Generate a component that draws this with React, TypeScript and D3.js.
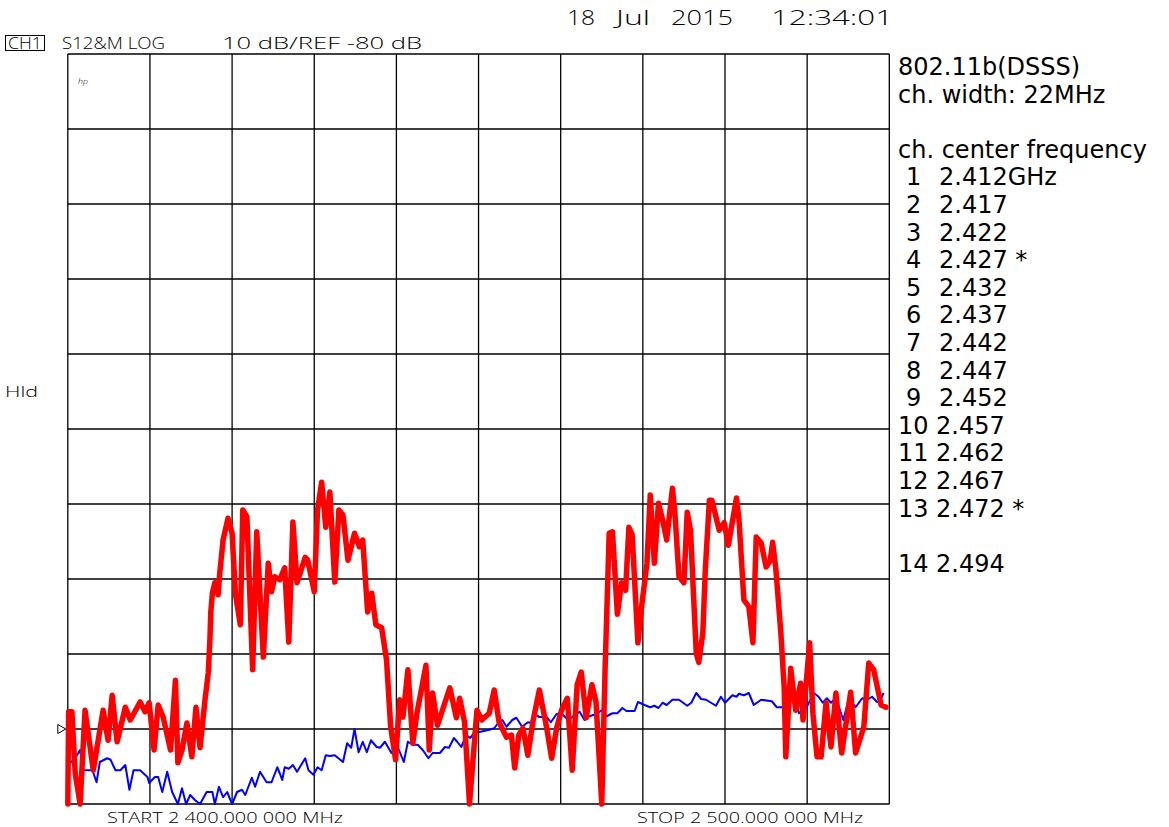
import React from "react";
import * as d3 from "d3";

// ---- scale settings (network analyzer: 10 dB/div, REF -80 dB) ----
const START_MHZ = 2400;
const STOP_MHZ = 2500;
const REF_DB = -80;
const DB_PER_DIV = 10;
const TOP_DB = 10;
const BOTTOM_DB = -90;
const X_DIVS = 10;

// ---- traces: [frequency MHz, level dB] ----
const redTrace: [number, number][] = [
  [2400.0,-90],[2400.1,-77.7],[2400.5,-77.7],[2400.9,-85.9],[2401.5,-90],[2402.1,-77.5],[2403.1,-85.5],[2404.3,-77.5],[2404.9,-81.5],[2405.4,-75.5],
  [2406.0,-81.7],[2407.0,-77.1],[2407.6,-78.8],[2408.8,-76.4],[2409.4,-77.7],[2409.9,-76.5],[2410.5,-82.8],[2411.0,-76.8],[2411.6,-78.4],[2412.5,-82.8],
  [2413.1,-73.5],[2413.4,-84.5],[2413.9,-82.8],[2414.5,-79.2],[2415.1,-83.7],[2415.6,-77.1],[2416.1,-82.5],[2416.7,-76.1],[2417.1,-72.5],[2417.3,-68.1],
  [2417.4,-64.5],[2417.6,-61.9],[2417.9,-60.5],[2418.3,-62.1],[2418.5,-59.2],[2418.9,-54.8],[2419.5,-51.9],[2420.0,-53.9],[2420.4,-61.9],[2421.0,-66.1],
  [2421.3,-50.8],[2421.8,-51.7],[2422.5,-72.1],[2423.0,-53.7],[2423.8,-70.4],[2424.4,-57.9],[2424.8,-61.7],[2425.2,-59.7],[2425.8,-60.1],[2426.4,-58.5],
  [2426.9,-68.4],[2427.4,-52.4],[2427.9,-60.5],[2428.9,-57.1],[2429.2,-57.5],[2430.0,-61.7],[2430.4,-50.8],[2430.9,-47.1],[2431.4,-53.1],[2431.9,-48.4],
  [2432.5,-60.4],[2433.0,-50.8],[2433.5,-51.5],[2434.1,-57.5],[2434.9,-53.9],[2435.5,-55.7],[2435.9,-54.8],[2436.5,-64.4],[2437.0,-61.9],[2437.5,-66.1],
  [2438.2,-66.5],[2438.8,-70.8],[2439.3,-79.7],[2439.9,-84.1],[2440.4,-76.1],[2440.8,-78.4],[2441.4,-72.1],[2442.0,-81.9],[2442.5,-77.9],[2443.6,-71.5],
  [2444.0,-82.8],[2444.4,-75.2],[2445.0,-79.5],[2446.5,-74.5],[2447.3,-78.5],[2447.7,-75.9],[2448.3,-79.1],[2448.9,-90],[2449.8,-77.5],[2450.4,-78.8],
  [2451.3,-77.9],[2451.9,-74.8],[2452.5,-79.1],[2453.4,-81.1],[2454.0,-80.8],[2454.4,-85.2],[2454.9,-80.8],[2455.4,-79.9],[2456.0,-83.5],[2456.6,-79.1],
  [2457.4,-74.8],[2458.3,-79.9],[2458.9,-83.9],[2459.5,-79.9],[2460.1,-77.5],[2460.8,-75.9],[2461.4,-85.5],[2462.0,-74.1],[2462.5,-72.4],[2463.1,-78.5],
  [2463.8,-74.1],[2464.3,-76.4],[2465.0,-90],[2465.4,-72.1],[2465.9,-53.9],[2466.3,-53.7],[2466.9,-64.7],[2467.4,-60.5],[2467.9,-61.5],[2468.3,-53.1],
  [2468.7,-54.1],[2469.4,-68.5],[2469.9,-63.2],[2470.5,-57.9],[2470.9,-48.8],[2471.4,-57.9],[2471.9,-49.9],[2472.4,-52.1],[2472.9,-54.8],[2473.6,-47.9],
  [2473.9,-51.2],[2474.4,-59.7],[2475.0,-60.5],[2475.4,-51.1],[2475.8,-53.5],[2476.5,-69.9],[2476.8,-71.1],[2477.3,-67.2],[2477.6,-58.8],[2478.1,-49.5],
  [2478.4,-49.5],[2479.3,-53.5],[2479.9,-52.5],[2480.4,-55.5],[2481.4,-49.2],[2481.7,-52.1],[2482.3,-62.8],[2482.9,-63.7],[2483.4,-68.5],[2483.8,-54.4],
  [2484.4,-55.2],[2485.0,-58.4],[2485.5,-57.5],[2485.8,-55.1],[2486.2,-58.8],[2486.8,-67.2],[2487.2,-74.4],[2487.4,-83.7],[2488.0,-71.9],[2488.6,-77.5],
  [2489.2,-73.9],[2489.5,-78.8],[2490.3,-68.5],[2490.7,-77.9],[2491.2,-83.7],[2491.7,-83.7],[2492.3,-76.5],[2492.9,-82.4],[2493.5,-75.2],[2494.2,-83.2],
  [2495.3,-75.1],[2495.9,-83.2],[2496.9,-79.7],[2497.5,-71.2],[2498.1,-72.1],[2499.0,-76.8],[2499.6,-77.1],
];

const blueTrace: [number, number][] = [
  [2400.0,-84.5],[2400.3,-84.5],[2400.9,-83.9],[2401.5,-82.8],[2401.9,-85.5],[2403.0,-85.5],[2403.5,-87.1],[2403.9,-84.4],[2404.8,-83.9],[2405.2,-84.1],
  [2405.8,-85.5],[2406.4,-85.5],[2407.0,-84.8],[2407.5,-88.1],[2408.0,-85.5],[2408.8,-85.5],[2409.7,-86.4],[2409.9,-87.2],[2410.6,-86.4],[2411.0,-86.4],
  [2411.5,-88.4],[2412.1,-85.7],[2412.7,-88.4],[2413.4,-90],[2413.9,-87.9],[2414.4,-90],[2414.9,-88.8],[2415.5,-89.5],[2416.1,-90],[2416.9,-88.4],
  [2417.6,-88.4],[2417.9,-90],[2418.4,-87.7],[2418.9,-89.1],[2419.4,-88.4],[2420.0,-90],[2420.6,-88.4],[2421.2,-88.1],[2421.6,-88.8],[2422.4,-86.5],
  [2422.8,-87.7],[2423.4,-85.7],[2424.2,-87.1],[2424.8,-87.1],[2425.5,-85.1],[2425.8,-85.9],[2426.1,-86.8],[2426.4,-85.1],[2426.9,-85.3],[2427.4,-84.8],
  [2427.9,-85.7],[2428.9,-83.9],[2429.3,-85.5],[2429.9,-86.1],[2430.4,-85.1],[2430.9,-85.5],[2431.4,-83.5],[2431.9,-83.6],[2432.5,-83.5],[2433.5,-84.4],
  [2434.0,-81.9],[2434.5,-82.5],[2434.9,-80.0],[2435.4,-83.1],[2435.9,-81.7],[2436.4,-83.1],[2436.9,-81.5],[2437.6,-82.4],[2438.0,-82.5],[2438.6,-81.7],
  [2439.4,-83.2],[2440.2,-82.5],[2440.9,-84.4],[2441.4,-81.7],[2442.0,-82.1],[2442.6,-82.1],[2443.2,-82.8],[2443.9,-83.9],[2444.4,-83.2],[2445.3,-83.2],
  [2445.9,-82.4],[2446.4,-82.5],[2447.0,-81.2],[2447.4,-81.7],[2447.9,-82.4],[2448.5,-80.8],[2449.0,-81.2],[2449.5,-80.4],[2450.1,-80.4],[2451.3,-80.1],
  [2451.9,-79.9],[2452.4,-79.2],[2452.9,-78.8],[2453.4,-79.7],[2454.1,-78.8],[2454.6,-78.5],[2455.3,-79.7],[2456.0,-79.1],[2456.4,-79.2],[2456.9,-78.1],
  [2457.4,-78.4],[2458.3,-78.4],[2458.8,-79.1],[2459.5,-78.0],[2460.1,-77.9],[2460.9,-78.8],[2461.4,-78.4],[2462.3,-77.7],[2462.9,-78.8],[2463.5,-78.3],
  [2464.3,-78.0],[2465.0,-77.5],[2465.6,-78.3],[2466.3,-77.9],[2466.9,-77.9],[2467.5,-77.2],[2468.0,-77.6],[2469.0,-77.6],[2469.4,-76.4],[2470.2,-76.8],
  [2470.9,-77.1],[2471.4,-76.9],[2471.9,-77.2],[2472.4,-76.5],[2472.9,-76.8],[2473.6,-76.1],[2474.4,-76.1],[2475.4,-76.9],[2475.9,-76.5],[2476.5,-75.2],
  [2477.1,-76.0],[2477.7,-76.1],[2478.9,-76.9],[2479.5,-75.7],[2480.0,-76.5],[2480.9,-75.5],[2481.4,-75.7],[2481.7,-75.3],[2482.3,-75.5],[2482.9,-75.2],
  [2483.5,-76.8],[2484.4,-76.1],[2485.7,-76.3],[2486.3,-77.1],[2486.9,-77.1],[2487.8,-76.4],[2488.4,-75.7],[2489.0,-77.9],[2489.9,-77.2],[2490.8,-75.2],
  [2491.4,-75.7],[2491.9,-76.5],[2492.4,-75.9],[2492.9,-76.5],[2493.5,-75.9],[2494.4,-78.8],[2495.1,-75.9],[2495.9,-77.1],[2496.7,-75.9],[2497.3,-76.1],
  [2497.9,-75.7],[2498.5,-76.4],[2498.8,-76.4],[2499.3,-75.2],
];

// ---- instrument annotation text ----
const dateParts = ["18", "Jul", "2015", "12:34:01"];
const channelTag = "CH1";
const measLabel = "S12&M LOG";
const scaleLabel = "10 dB/REF -80 dB";
const startLabel = "START 2 400.000 000 MHz";
const stopLabel = "STOP 2 500.000 000 MHz";
const holdLabel = "Hld";
const logoLabel = "hp";

// ---- side panel text ----
const infoLines = ["802.11b(DSSS)", "ch. width: 22MHz"];
const freqHeader = "ch. center frequency";
const channelNumbers = [1, 2, 3, 4, 5, 6, 7, 8, 9, 10, 11, 12, 13, 14];
const channelFreqs = ["2.412GHz", "2.417", "2.422", "2.427", "2.432", "2.437", "2.442", "2.447", "2.452", "2.457", "2.462", "2.467", "2.472", "2.494"];
const channelMarks = ["", "", "", "*", "", "", "", "", "", "", "", "", "*", ""];

const PLOT_FONT = "'Open Sans', 'Liberation Sans', Arial, sans-serif";
const SIDE_FONT = "'DejaVu Sans', Verdana, sans-serif";

export default function App() {
  const L = 67.8, R = 889.3, T = 54, B = 804;
  const x = d3.scaleLinear().domain([START_MHZ, STOP_MHZ]).range([L, R]);
  const y = d3.scaleLinear().domain([BOTTOM_DB, TOP_DB]).range([B, T]);
  const line = d3
    .line<[number, number]>()
    .x((d) => x(d[0]))
    .y((d) => y(d[1]));

  const xGrid = d3.range(X_DIVS + 1).map((i) => START_MHZ + (i * (STOP_MHZ - START_MHZ)) / X_DIVS);
  const yGrid = d3.range(BOTTOM_DB, TOP_DB + 0.001, DB_PER_DIV);

  const datePos = [567, 616, 671, 771];
  const dateLen = [28, 34, 62, 122];

  const lineH = 27.6;
  const baseY = 75;
  const rowOfChannel = (i: number) => (i < 13 ? 4 + i : 18);
  const refY = y(REF_DB);

  const plotText = { fontFamily: PLOT_FONT, fontWeight: 300 as const, lengthAdjust: "spacingAndGlyphs" };

  return (
    <svg
      width={1169}
      height={827}
      style={{ position: "fixed", left: 0, top: 0, background: "#fff" }}
    >
      <rect x={0} y={0} width={1169} height={827} fill="#fff" />

      {/* date/time */}
      {dateParts.map((t, i) => (
        <text key={t} x={datePos[i]} y={25} fontSize={20} textLength={dateLen[i]} {...plotText} fill="#000">
          {t}
        </text>
      ))}

      {/* header */}
      <rect x={5.5} y={35.5} width={39} height={15} fill="none" stroke="#000" strokeWidth={1} />
      <text x={8} y={49} fontSize={16} textLength={34} {...plotText}>{channelTag}</text>
      <text x={62} y={49} fontSize={16} textLength={103} {...plotText}>{measLabel}</text>
      <text x={222} y={49} fontSize={16} textLength={200} {...plotText}>{scaleLabel}</text>

      {/* grid */}
      {xGrid.map((f) => (
        <line key={"vx" + f} x1={x(f)} x2={x(f)} y1={T} y2={B} stroke="#000" strokeWidth={1.3} />
      ))}
      {yGrid.map((v) => (
        <line key={"hy" + v} x1={L} x2={R} y1={y(v)} y2={y(v)} stroke="#000" strokeWidth={1.3} />
      ))}

      <text x={78} y={84} fontSize={8} fontStyle="italic" textLength={10} {...plotText}>{logoLabel}</text>
      <text x={5} y={397} fontSize={15} textLength={33} {...plotText}>{holdLabel}</text>

      {/* reference marker */}
      <path
        d={`M${L - 10},${refY - 4.5} L${L - 2},${refY} L${L - 10},${refY + 4.5} Z`}
        fill="#fff"
        stroke="#000"
        strokeWidth={1}
      />

      {/* traces */}
      <path d={line(blueTrace) || ""} fill="none" stroke="#0000ff" strokeWidth={2} strokeLinejoin="round" />
      <path d={line(redTrace) || ""} fill="none" stroke="#ff0000" strokeWidth={5.5} strokeLinejoin="round" strokeLinecap="round" />

      {/* bottom labels */}
      <text x={107} y={822.5} fontSize={15} textLength={236} {...plotText}>{startLabel}</text>
      <text x={637} y={822.5} fontSize={15} textLength={226} {...plotText}>{stopLabel}</text>

      {/* side panel */}
      <g fontFamily={SIDE_FONT} fontSize={24} fill="#000">
        {infoLines.map((t, i) => (
          <text key={t} x={898} y={baseY + lineH * i}>{t}</text>
        ))}
        <text x={898} y={baseY + lineH * 3}>{freqHeader}</text>
        {channelNumbers.map((n, i) => {
          const yy = baseY + lineH * rowOfChannel(i);
          const two = n >= 10;
          return (
            <g key={"ch" + n}>
              <text x={two ? 898 : 906} y={yy}>{n}</text>
              <text x={two ? 936 : 939} y={yy}>
                {channelFreqs[i] + (channelMarks[i] ? " " + channelMarks[i] : "")}
              </text>
            </g>
          );
        })}
      </g>
    </svg>
  );
}
